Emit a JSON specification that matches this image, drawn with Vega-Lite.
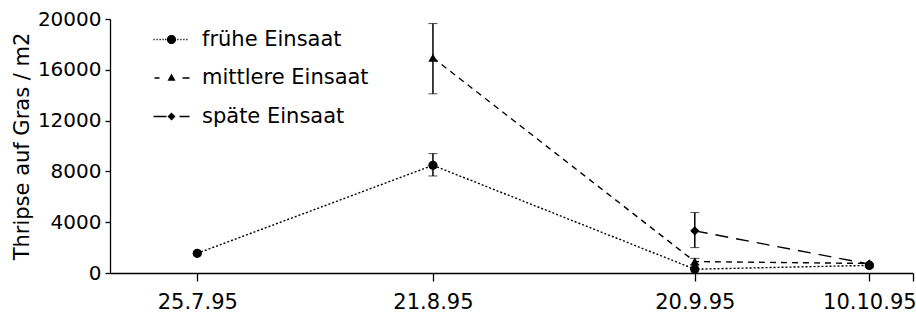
{
  "$schema": "https://vega.github.io/schema/vega-lite/v6.json",
  "width": 803,
  "height": 254,
  "autosize": {"type": "none"},
  "padding": {"left": 110, "top": 19, "right": 3, "bottom": 52},
  "background": "white",
  "config": {
    "view": {"stroke": null},
    "font": "DejaVu Sans",
    "axis": {"grid": false, "domainColor": "black", "tickColor": "black", "domainWidth": 1.3, "tickWidth": 1.3, "labelColor": "black", "titleColor": "black", "labelFont": "DejaVu Sans", "titleFont": "DejaVu Sans"}
  },
  "datasets": {
    "means": [
      {"series": "frühe Einsaat", "date": "1995-07-25", "value": 1550},
      {"series": "frühe Einsaat", "date": "1995-08-21", "value": 8480},
      {"series": "frühe Einsaat", "date": "1995-09-20", "value": 300},
      {"series": "frühe Einsaat", "date": "1995-10-10", "value": 600},
      {"series": "mittlere Einsaat", "date": "1995-08-21", "value": 16950},
      {"series": "mittlere Einsaat", "date": "1995-09-20", "value": 900},
      {"series": "mittlere Einsaat", "date": "1995-10-10", "value": 750},
      {"series": "späte Einsaat", "date": "1995-09-20", "value": 3320},
      {"series": "späte Einsaat", "date": "1995-10-10", "value": 700}
    ],
    "errors": [
      {"series": "frühe Einsaat", "date": "1995-08-21", "lo": 7640, "hi": 9400},
      {"series": "mittlere Einsaat", "date": "1995-08-21", "lo": 14110, "hi": 19640},
      {"series": "mittlere Einsaat", "date": "1995-09-20", "lo": 650, "hi": 1150},
      {"series": "späte Einsaat", "date": "1995-09-20", "lo": 2000, "hi": 4760}
    ]
  },
  "encoding": {
    "x": {
      "field": "date", "type": "temporal",
      "scale": {"type": "utc", "domain": [{"year": 1995, "month": 7, "date": 15, "utc": true}, {"year": 1995, "month": 10, "date": 15, "utc": true}]},
      "axis": {
        "title": null,
        "values": [
          {"year": 1995, "month": 7, "date": 25, "utc": true},
          {"year": 1995, "month": 8, "date": 21, "utc": true},
          {"year": 1995, "month": 9, "date": 20, "utc": true},
          {"year": 1995, "month": 10, "date": 10, "utc": true},
          {"year": 1995, "month": 10, "date": 15, "utc": true}
        ],
        "labelExpr": "datum.value > utc(1995, 9, 12) ? '' : utcFormat(datum.value, '%-d.%-m.%y')",
        "tickSize": 8,
        "labelFontSize": 21,
        "labelPadding": 10,
        "labelFlush": false,
        "labelOverlap": false
      }
    },
    "y": {
      "field": "value", "type": "quantitative",
      "title": "Thripse auf Gras / m2",
      "scale": {"domain": [0, 20000], "nice": false},
      "axis": {
        "values": [0, 4000, 8000, 12000, 16000, 20000],
        "format": "d",
        "tickSize": 5,
        "labelFontSize": 20,
        "labelPadding": 4,
        "titleFontSize": 21,
        "titleFontWeight": "normal",
        "titleAngle": 270,
        "titleX": -88,
        "titleY": 127,
        "titleAlign": "center",
        "titleBaseline": "middle"
      }
    }
  },
  "resolve": {"scale": {"shape": "independent"}, "legend": {"shape": "independent"}},
  "layer": [
    {
      "data": {"name": "means"},
      "transform": [{"filter": "datum.series == 'frühe Einsaat'"}],
      "mark": {"type": "line", "color": "black", "strokeWidth": 1.4, "strokeDash": [2, 2]},
      "encoding": {}
    },
    {
      "data": {"name": "means"},
      "transform": [{"filter": "datum.series == 'mittlere Einsaat'"}],
      "mark": {"type": "line", "color": "black", "strokeWidth": 1.4, "strokeDash": [6, 5]},
      "encoding": {}
    },
    {
      "data": {"name": "means"},
      "transform": [{"filter": "datum.series == 'späte Einsaat'"}],
      "mark": {"type": "line", "color": "black", "strokeWidth": 1.4, "strokeDash": [13, 8]},
      "encoding": {}
    },
    {
      "data": {"name": "errors"},
      "mark": {"type": "errorbar", "ticks": {"size": 9, "color": "black", "strokeWidth": 1.5}, "rule": {"color": "black", "strokeWidth": 1.5}},
      "encoding": {
        "y": {"field": "lo", "type": "quantitative", "title": "Thripse auf Gras / m2"},
        "y2": {"field": "hi"}
      }
    },
    {
      "data": {"name": "means"},
      "mark": {"type": "point", "filled": true, "color": "black", "opacity": 1, "size": 85},
      "encoding": {
        "shape": {
          "field": "series", "type": "nominal",
          "scale": {"domain": ["frühe Einsaat", "mittlere Einsaat", "späte Einsaat"], "range": ["circle", "triangle-up", "diamond"]},
          "legend": null
        }
      }
    },
    {
      "data": {"name": "means"},
      "mark": {"type": "point", "filled": true, "color": "black", "opacity": 0, "size": 16},
      "encoding": {
        "shape": {
          "field": "series", "type": "nominal",
          "scale": {
            "domain": ["frühe Einsaat", "mittlere Einsaat", "späte Einsaat"],
            "range": [
              "M-9,-0.35h0.6v0.7h-0.6ZM-7.5,-0.35h0.6v0.7h-0.6ZM-6,-0.35h0.6v0.7h-0.6ZM-4.5,-0.35h0.6v0.7h-0.6ZM-3.2,-0.35h0.6v0.7h-0.6ZM2.9,-0.35h0.6v0.7h-0.6ZM4.4,-0.35h0.6v0.7h-0.6ZM5.9,-0.35h0.6v0.7h-0.6ZM7.4,-0.35h0.6v0.7h-0.6ZM2.3,0A2.3,2.3,0,1,1,-2.3,0A2.3,2.3,0,1,1,2.3,0Z",
              "M-8.5,-0.35h2.5v0.7h-2.5ZM5.5,-0.35h3.5v0.7h-3.5ZM0,-2.2L2,1.4L-2,1.4Z",
              "M-9,-0.35h6.5v0.7h-6.5ZM4,-0.35h5v0.7h-5ZM0,-2L2,0L0,2L-2,0Z"
            ]
          },
          "legend": {
            "title": null,
            "orient": "none",
            "legendX": 51,
            "legendY": 10,
            "padding": 0,
            "symbolSize": 16,
            "labelFont": "DejaVu Sans",
            "labelFontSize": 21,
            "labelColor": "black",
            "labelLimit": 400,
            "labelOffset": 20,
            "rowPadding": 16.5,
            "symbolOffset": 0,
            "symbolOpacity": 1,
            "symbolFillColor": "black",
            "symbolStrokeColor": "black",
            "symbolStrokeWidth": 1.3
          }
        }
      }
    }
  ]
}
